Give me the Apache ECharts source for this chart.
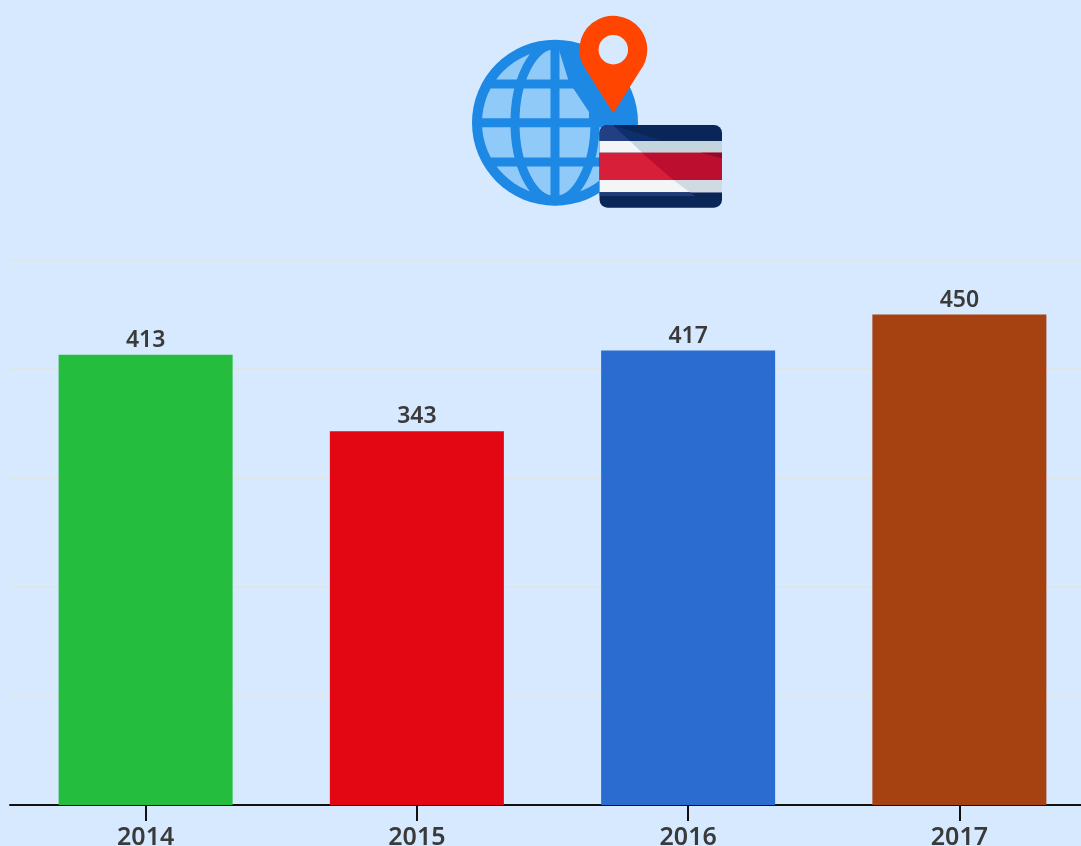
<!DOCTYPE html>
<html>
<head>
<meta charset="utf-8">
<style>html,body{margin:0;padding:0;background:#D6E9FF;overflow:hidden}#c{width:1081px;height:846px}</style>
<script src="https://cdn.jsdelivr.net/npm/echarts@6/dist/echarts.min.js"></script>
</head>
<body>
<div id="c"></div>
<script>
const years = ['2014', '2015', '2016', '2017'];
const values = [413, 343, 417, 450];
const barColors = ['#24BD3D', '#E30613', '#2B6CD0', '#A64112'];
const FONT = '"Noto Sans", sans-serif';
const BG = '#D6E9FF', DARK = '#1E88E5', LIGHT = '#90CAF9';
const cx = 555, cy = 122.7;
function line(x1, y1, x2, y2, w) { return {type:'line', shape:{x1,y1,x2,y2}, style:{stroke:DARK, lineWidth:w}, silent:true}; }
function poly(points, fill) { return {type:'polygon', shape:{points}, style:{fill}, silent:true}; }
function svgShape(name, d, fill) {
  echarts.graphic.registerShape(name, echarts.graphic.extendPath(d, {}));
  return {type:name, style:{fill}, silent:true};
}
// zoom-coordinates helper for the flag artwork
const Z = (x, y) => [460 + x / 3, 5 + y / 3];
const icon = [
  {type:'circle', shape:{cx, cy, r:78}, style:{fill:LIGHT}, silent:true},
  {type:'ellipse', shape:{cx, cy, rx:40, ry:78}, style:{fill:'none', stroke:DARK, lineWidth:9}, silent:true},
  line(cx, cy - 80, cx, cy + 80, 9),
  line(cx - 78, cy, cx + 78, cy, 9),
  line(cx - 67, cy - 38.7, cx + 67, cy - 38.7, 9),
  line(cx - 67, cy + 39.3, cx + 67, cy + 39.3, 9),
  svgShape('iconHalo', 'M559 50 L568 79 L573 88 L589 112 L589 121 L637 121 A82 82 0 0 0 559 41 Z', DARK),
  {type:'ring', shape:{cx, cy, r:83, r0:73}, style:{fill:DARK}, silent:true},
  svgShape('iconPin', 'M613.3 113.3 L586.7 70.9 A34 34 0 1 1 639.9 70.9 Z', '#FF4500'),
  {type:'circle', shape:{cx:613.3, cy:49.7, r:14.7}, style:{fill:BG}, silent:true},
  // flag
  {type:'rect', shape:{x:599.5, y:125, width:122.5, height:82.7, r:8}, style:{fill:'#0A2558'}, silent:true},
  poly([Z(460,361), Z(600,405), Z(510,408)], '#0E2F6E'),
  svgShape('iconFlagCorner', 'M613 125 L607.5 125 A8 8 0 0 0 599.5 133 L599.5 141 L630 141 Z', '#213F82'),
  {type:'rect', shape:{x:599.5, y:141, width:122.5, height:11.8}, style:{fill:'#F3F5F7'}, silent:true},
  poly([Z(510,408), Z(786,408), Z(786,443), Z(547,443)], '#C5D5DD'),
  {type:'rect', shape:{x:599.5, y:152.7, width:122.5, height:27.5}, style:{fill:'#D81F3A'}, silent:true},
  poly([Z(545,443), Z(786,443), Z(786,525), Z(640,525)], '#BC0F2F'),
  poly([Z(725,443), Z(786,443), Z(786,460)], '#8E0A2A'),
  {type:'rect', shape:{x:599.5, y:180, width:122.5, height:12.3}, style:{fill:'#F3F5F7'}, silent:true},
  poly([Z(640,525), Z(786,525), Z(786,562), Z(690,562)], '#D0DAE0'),
  poly([Z(419,562), Z(690,562), Z(705,573), Z(419,573)], '#1F3C7A')
];
const chart = echarts.init(document.getElementById('c'));
chart.setOption({
  animation: false,
  backgroundColor: BG,
  grid: {left: 10, top: 260, width: 1085, height: 545, containLabel: false, outerBoundsMode: 'none'},
  xAxis: {
    type: 'category', data: years,
    axisLine: {lineStyle: {color: '#111111', width: 2}},
    axisTick: {show: true, alignWithLabel: true, length: 16, lineStyle: {color: '#111111', width: 2}},
    axisLabel: {color: '#3A3A3A', fontFamily: FONT, fontWeight: 600, fontSize: 25, margin: 20, interval: 0}
  },
  yAxis: {
    type: 'value', min: 0, max: 500, interval: 100,
    axisLine: {show: false}, axisTick: {show: false}, axisLabel: {show: false},
    splitLine: {show: true, lineStyle: {color: '#E0E5EA', width: 2}}
  },
  series: [{
    type: 'bar', barWidth: 174,
    data: values.map((v, i) => ({value: v, itemStyle: {color: barColors[i]}})),
    label: {show: true, position: 'top', distance: 3, color: '#3A3A3A', fontFamily: FONT, fontWeight: 600, fontSize: 23}
  }],
  graphic: {elements: icon}
});
</script>
</body>
</html>
